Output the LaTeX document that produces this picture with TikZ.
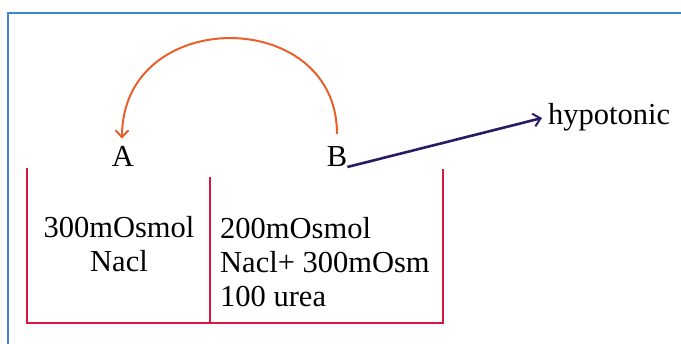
\documentclass[tikz,border=0pt]{standalone}
\usepackage{fontspec}
\setmainfont{Liberation Serif}
\usetikzlibrary{arrows.meta,calc}
\definecolor{framecol}{HTML}{3C86D6}
\definecolor{boxcol}{HTML}{D7173F}
\definecolor{arccol}{HTML}{E8602C}
\definecolor{navycol}{HTML}{2B1B66}
\tikzset{
  lbl/.style={inner sep=0pt, font=\fontsize{30.5}{34}\selectfont},
  wall/.style={draw=boxcol, line width=2.2pt},
  tip/.style={-{Straight Barb[length=7pt,width=13pt,line width=2pt]}}
}
\begin{document}
\begin{tikzpicture}[x=1pt,y=-1pt]
\useasboundingbox (0,0) rectangle (681,344);
\clip (0,0) rectangle (681,344);
% blue frame
\draw[draw=framecol, line width=2.2pt] (8,400) -- (8,13) -- (700,13);
% container
\draw[wall] (27,168) -- (27,323) -- (443,323) -- (443,169);
\coordinate (dtop) at (210,177);
\coordinate (dbot) at (210,323);
\draw[wall] (dtop) -- (dbot);
% labels
\node[lbl, anchor=base] (A) at (123,167) {A};
\node[lbl, anchor=base] (B) at (337,167) {B};
\node[lbl, anchor=base west] (hyp) at (548,125) {hypotonic};
\node[lbl, anchor=base, align=center] (left) at (119,272) {300mOsmol\\Nacl};
\node[lbl, anchor=base west, align=left] (right) at (220,307) {200mOsmol\\Nacl+ 300mOsm\\100 urea};
% arc from B to A
\draw[arccol, line width=2pt, tip]
  ($(B.north)+(0,-13)$) .. controls ($(B.north)+(0,-141)$) and ($(A.north)+(-1,-141)$) .. ($(A.north)+(-1,-8)$);
% arrow B -> hypotonic
\draw[navycol, line width=2.6pt, tip] (B.base east) -- ($(hyp.base west)+(-6,-7)$);
\end{tikzpicture}
\end{document}
